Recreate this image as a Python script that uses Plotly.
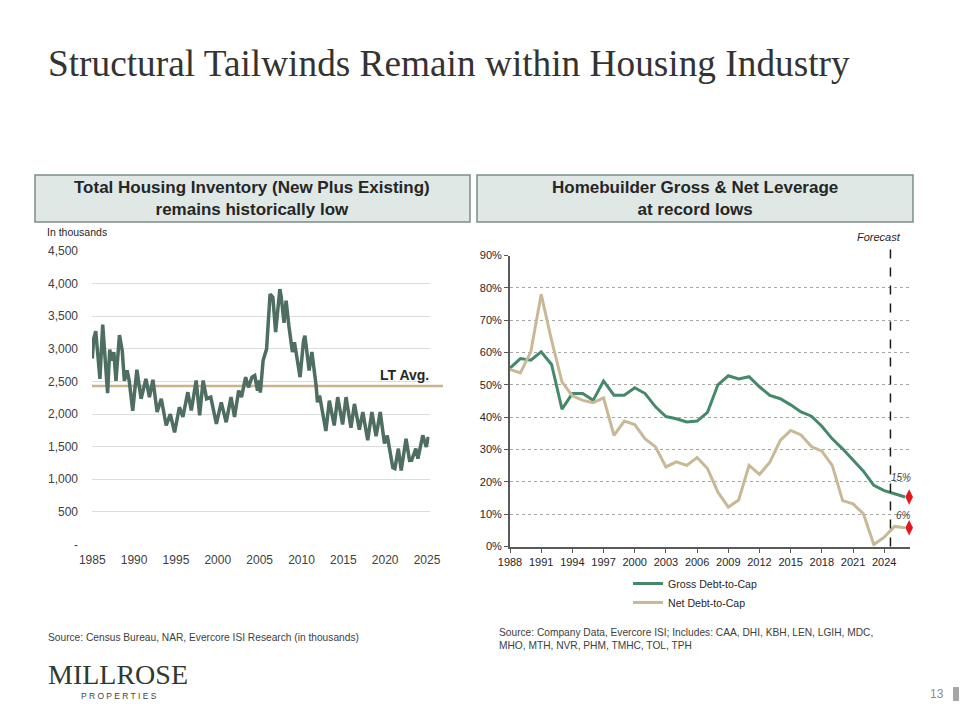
import plotly.graph_objects as go

# ---------------- Data ----------------
inv_dates = [
    "1985-01", "1985-03", "1985-06", "1985-09", "1985-12", "1986-04", "1986-07", "1986-11",
    "1987-02", "1987-05", "1987-08", "1987-11", "1988-04", "1988-08", "1988-11", "1989-03",
    "1989-06", "1989-11", "1990-05", "1990-11", "1991-06", "1991-11", "1992-04", "1992-10",
    "1993-04", "1993-11", "1994-05", "1994-11", "1995-06", "1995-11", "1996-06", "1996-11",
    "1997-06", "1997-11", "1998-04", "1998-09", "1999-03", "1999-11", "2000-06", "2001-01",
    "2001-08", "2002-01", "2002-07", "2002-11", "2003-05", "2003-09", "2004-02", "2004-06",
    "2004-10", "2004-12", "2005-02", "2005-06", "2005-11", "2006-04", "2006-08", "2006-12",
    "2007-06", "2007-08", "2007-12", "2008-03", "2008-07", "2008-12", "2009-03", "2009-11",
    "2010-04", "2010-06", "2010-12", "2011-04", "2011-10", "2011-12", "2012-03", "2012-12",
    "2013-05", "2013-12", "2014-05", "2014-12", "2015-05", "2015-12", "2016-05", "2016-12",
    "2017-05", "2017-12", "2018-06", "2018-12", "2019-06", "2019-12", "2020-04", "2020-12",
    "2021-03", "2021-08", "2021-12", "2022-07", "2022-12", "2023-03", "2023-09", "2023-12",
    "2024-07", "2024-12", "2025-03",
]
inv_values = [
    2850, 3150, 3270, 2900, 2540, 3370, 2970, 2320,
    2990, 2820, 2950, 2510, 3210, 2970, 2510, 2670,
    2510, 2050, 2680, 2235, 2540, 2260, 2525, 2030,
    2235, 1825, 2000, 1720, 2105, 1955, 2335, 2055,
    2514, 1980, 2514, 2235, 2260, 1850, 2180, 1875,
    2260, 1955, 2360, 2260, 2565, 2410, 2565, 2590,
    2360, 2514, 2330, 2820, 3000, 3840, 3790, 3255,
    3915, 3800, 3400, 3740, 3350, 2950, 3100, 2565,
    3125, 3200, 2667, 2950, 2437, 2180, 2285, 1740,
    2205, 1825, 2260, 1840, 2260, 1790, 2155, 1760,
    2030, 1600, 2030, 1660, 2030, 1550, 1670, 1180,
    1164, 1470, 1135, 1620, 1290, 1291, 1470, 1316,
    1673, 1495, 1650,
]
LT_AVG = 2430
inv_yticks = [0, 500, 1000, 1500, 2000, 2500, 3000, 3500, 4000, 4500]
inv_yticktext = ["-", "500", "1,000", "1,500", "2,000", "2,500", "3,000", "3,500", "4,000", "4,500"]

lev_years = list(range(1988, 2027))
gross_debt_to_cap = [
    55.2, 58.1, 57.6, 60.2, 56.3, 42.5, 47.3, 47.3, 45.2, 51.2,
    46.8, 46.8, 49.1, 47.3, 43.2, 40.2, 39.5, 38.5, 38.8, 41.5,
    50.0, 52.8, 51.8, 52.5, 49.4, 46.7, 45.7, 43.8, 41.6, 40.3,
    37.2, 33.3, 30.2, 26.6, 23.3, 18.9, 17.3, 16.3, 15.3,
]
net_debt_to_cap = [
    54.8, 53.7, 60.2, 78.0, 63.8, 50.9, 46.6, 45.2, 44.5, 46.0,
    34.4, 38.8, 37.7, 33.3, 30.8, 24.6, 26.2, 25.1, 27.5, 24.1,
    16.8, 12.2, 14.4, 25.1, 22.3, 26.1, 32.8, 35.9, 34.5, 30.9,
    29.5, 25.1, 14.2, 13.2, 10.1, 0.6, 2.9, 6.2, 5.8,
]
FORECAST_START = 2024.6
forecast_marker_year = 2026.4
forecast_labels = ["15%", "6%"]
lev_xticks = list(range(1988, 2025, 3))

# ---------------- Styles ----------------
W, H = 960, 720
GREEN_DARK = "#4d6e60"
TAN = "#c8b38f"
GROSS_C = "#43896a"
NET_C = "#c9b895"
TXT = "#404040"
FONT = "Liberation Sans, Arial, sans-serif"


def px_x(p):
    return p / W


def px_y(p):
    return 1 - p / H


fig = go.Figure()

# Left chart
fig.add_trace(go.Scatter(
    x=inv_dates, y=inv_values, mode="lines",
    line=dict(color=GREEN_DARK, width=3.5),
    xaxis="x", yaxis="y", showlegend=False, hoverinfo="skip",
))

# Right chart
fig.add_trace(go.Scatter(
    x=lev_years, y=gross_debt_to_cap, mode="lines", name="Gross Debt-to-Cap",
    line=dict(color=GROSS_C, width=3), xaxis="x2", yaxis="y2",
))
fig.add_trace(go.Scatter(
    x=lev_years, y=net_debt_to_cap, mode="lines", name="Net Debt-to-Cap",
    line=dict(color=NET_C, width=3), xaxis="x2", yaxis="y2",
))
fig.add_trace(go.Scatter(
    x=[forecast_marker_year, forecast_marker_year],
    y=[gross_debt_to_cap[-1], net_debt_to_cap[-1]],
    mode="markers", marker=dict(symbol="diamond-tall", size=11, color="#e3171d"),
    xaxis="x2", yaxis="y2", showlegend=False, cliponaxis=False,
))

shapes = []
annotations = []

# Header boxes
for x0, x1, text in [
    (35, 470, "Total Housing Inventory (New Plus Existing)<br>remains historically low"),
    (477, 913, "Homebuilder Gross & Net Leverage<br>at record lows"),
]:
    shapes.append(dict(type="rect", xref="paper", yref="paper",
                       x0=px_x(x0), x1=px_x(x1), y0=px_y(222), y1=px_y(175),
                       fillcolor="#dfe8e4", line=dict(color="#7d8a85", width=1.5), layer="below"))
    annotations.append(dict(xref="paper", yref="paper", x=px_x((x0 + x1) / 2), y=px_y(198.5),
                            text="<b>" + text + "</b>", showarrow=False,
                            font=dict(size=17, color="#262626", family=FONT),
                            xanchor="center", yanchor="middle", align="center"))

# LT average line
shapes.append(dict(type="line", xref="paper", yref="y", x0=px_x(92), x1=px_x(443),
                   y0=LT_AVG, y1=LT_AVG, line=dict(color=TAN, width=2.5), layer="below"))
annotations.append(dict(xref="paper", yref="y", x=px_x(431), y=LT_AVG, yshift=11,
                        text="<b>LT Avg.</b>", showarrow=False, xanchor="right", yanchor="middle",
                        font=dict(size=14, color="#262626", family=FONT)))

# Forecast line
shapes.append(dict(type="line", xref="x2", yref="paper", x0=FORECAST_START, x1=FORECAST_START,
                   y0=px_y(546.5), y1=px_y(248), line=dict(color="#1a1a1a", width=1.5, dash="dash")))
annotations.append(dict(xref="paper", yref="paper", x=px_x(903), y=px_y(237), text="<i>Forecast</i>",
                        showarrow=False, xanchor="right", yanchor="middle",
                        font=dict(size=11, color="#262626", family=FONT)))
for lab, val, ys in zip(forecast_labels, [gross_debt_to_cap[-1], net_debt_to_cap[-1]], [20, 12]):
    annotations.append(dict(xref="x2", yref="y2", x=forecast_marker_year, y=val, yshift=ys, xshift=4,
                            text="<i>" + lab + "</i>", showarrow=False, xanchor="right", yanchor="middle",
                            font=dict(size=10, color="#404040", family=FONT)))

# Title and texts
annotations += [
    dict(xref="paper", yref="paper", x=px_x(46), y=px_y(63), text="Structural Tailwinds Remain within Housing Industry",
         showarrow=False, xanchor="left", yanchor="middle",
         font=dict(size=37.3, color="#333333", family="Liberation Serif, Times New Roman, serif")),
    dict(xref="paper", yref="paper", x=px_x(45), y=px_y(232), text="In thousands",
         showarrow=False, xanchor="left", yanchor="middle", font=dict(size=10.5, color="#262626", family=FONT)),
    dict(xref="paper", yref="paper", x=px_x(46), y=px_y(637),
         text="Source: Census Bureau, NAR, Evercore ISI Research (in thousands)",
         showarrow=False, xanchor="left", yanchor="middle", font=dict(size=10.2, color=TXT, family=FONT)),
    dict(xref="paper", yref="paper", x=px_x(497), y=px_y(638.5),
         text="Source: Company Data, Evercore ISI; Includes: CAA, DHI, KBH, LEN, LGIH, MDC,<br>MHO, MTH, NVR, PHM, TMHC, TOL, TPH",
         showarrow=False, xanchor="left", yanchor="middle", align="left",
         font=dict(size=10.2, color=TXT, family=FONT)),
    dict(xref="paper", yref="paper", x=px_x(46), y=px_y(692), text="MILLROSE",
         showarrow=False, xanchor="left", yanchor="bottom",
         font=dict(size=28, color="#2e3a31", family="Liberation Serif, Times New Roman, serif")),
    dict(xref="paper", yref="paper", x=px_x(118.5), y=px_y(689), text="P R O P E R T I E S",
         showarrow=False, xanchor="center", yanchor="top",
         font=dict(size=8.5, color="#444444", family=FONT)),
    dict(xref="paper", yref="paper", x=px_x(946), y=px_y(694), text="13",
         showarrow=False, xanchor="right", yanchor="middle", font=dict(size=12, color="#8c8c8c", family=FONT)),
]
shapes.append(dict(type="rect", xref="paper", yref="paper", x0=px_x(953), x1=px_x(959),
                   y0=px_y(701), y1=px_y(687), fillcolor="#a6a6a6", line=dict(width=0)))

fig.update_layout(
    width=W, height=H, margin=dict(l=0, r=0, t=0, b=0, pad=0, autoexpand=False),
    paper_bgcolor="white", plot_bgcolor="white",
    font=dict(family=FONT, color=TXT),
    shapes=shapes, annotations=annotations,
    xaxis=dict(domain=[px_x(92), px_x(429.5)], type="date",
               range=["1984-12-20", "2025-04-20"],
               tickvals=["1985-01-01", "1990-01-01", "1995-01-01", "2000-01-01", "2005-01-01",
                         "2010-01-01", "2015-01-01", "2020-01-01", "2025-01-01"],
               tickformat="%Y", showgrid=False, zeroline=False, showline=False,
               ticks="", tickfont=dict(size=12, color=TXT), anchor="y", ticklabelstandoff=6),
    yaxis=dict(domain=[px_y(544.5), px_y(251)], range=[0, 4500],
               tickvals=inv_yticks, ticktext=inv_yticktext,
               showgrid=True, gridcolor="#dcdcdc", gridwidth=1, zeroline=False, showline=False,
               ticks="", tickfont=dict(size=12, color=TXT), anchor="x", ticklabelstandoff=13),
    xaxis2=dict(domain=[px_x(510), px_x(910.2)], range=[1988, 2026.5],
                tickvals=lev_xticks, showgrid=False, zeroline=False,
                showline=True, linecolor="#595959", linewidth=2,
                ticks="outside", ticklen=4, tickcolor="#595959",
                tickfont=dict(size=11, color="#262626"), anchor="y2"),
    yaxis2=dict(domain=[px_y(546.5), px_y(255.5)], range=[0, 90], dtick=10, ticksuffix="%",
                showgrid=True, gridcolor="#a6a6a6", griddash="dot", gridwidth=1, zeroline=False,
                showline=True, linecolor="#595959", linewidth=2,
                ticks="outside", ticklen=4, tickcolor="#595959",
                tickfont=dict(size=11, color="#262626"), anchor="x2"),
    legend=dict(x=px_x(628), y=px_y(569), xanchor="left", yanchor="top",
                font=dict(size=10.6, color="#262626", family=FONT),
                bgcolor="rgba(0,0,0,0)", itemwidth=30, tracegroupgap=0),
)

fig.write_html("out.html")
